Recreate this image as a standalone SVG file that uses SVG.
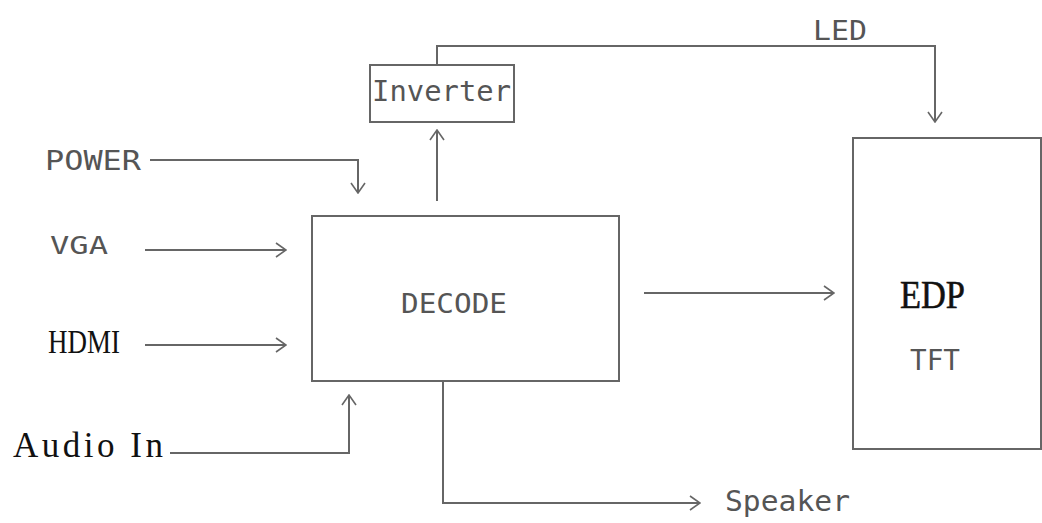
<svg xmlns="http://www.w3.org/2000/svg" width="1042" height="523" viewBox="0 0 1042 523">
<style>
.box{fill:#fff;stroke:#666;stroke-width:2}
.ln{fill:none;stroke:#666;stroke-width:2}
.sans{font-family:"DejaVu Sans Mono","Liberation Mono",monospace;fill:#555}
.ser{font-family:"Liberation Serif","DejaVu Serif",serif;fill:#111}
</style>
<defs>
<marker id="ah" viewBox="0 0 12 16" refX="11" refY="8" markerWidth="12" markerHeight="16" markerUnits="userSpaceOnUse" orient="auto">
<path d="M1,1 L11,8 L1,15" fill="none" stroke="#666" stroke-width="1.6"/>
</marker>
</defs>
<rect width="1042" height="523" fill="#fff"/>
<g id="connectors">
<path class="ln" d="M437,65 V46 H935 V122" marker-end="url(#ah)"/>
<path class="ln" d="M437,201 V130" marker-end="url(#ah)"/>
<path class="ln" d="M150,160 H358 V193" marker-end="url(#ah)"/>
<path class="ln" d="M145,250 H286" marker-end="url(#ah)"/>
<path class="ln" d="M145,345 H286" marker-end="url(#ah)"/>
<path class="ln" d="M170,453 H349 V395" marker-end="url(#ah)"/>
<path class="ln" d="M443,381 V503 H700" marker-end="url(#ah)"/>
<path class="ln" d="M644,293 H834" marker-end="url(#ah)"/>
</g>
<g id="inverter">
<rect class="box" x="370" y="65" width="144" height="57"/>
<text class="sans" x="372" y="101" font-size="28" textLength="139" lengthAdjust="spacingAndGlyphs">Inverter</text>
</g>
<g id="decode">
<rect class="box" x="312" y="216" width="307" height="165"/>
<text class="sans" x="401" y="313" font-size="26" textLength="106" lengthAdjust="spacingAndGlyphs">DECODE</text>
</g>
<g id="edp">
<rect class="box" x="853" y="138" width="188" height="311"/>
<text class="ser" x="900" y="308" font-size="40" textLength="65" lengthAdjust="spacingAndGlyphs" stroke="#111" stroke-width="0.6">EDP</text>
<text class="sans" x="910" y="370" font-size="28" textLength="50" lengthAdjust="spacingAndGlyphs">TFT</text>
</g>
<g id="labels">
<text class="sans" x="813" y="40" font-size="26" textLength="54" lengthAdjust="spacingAndGlyphs">LED</text>
<text class="sans" x="45" y="170" font-size="27" textLength="96" lengthAdjust="spacingAndGlyphs">POWER</text>
<text class="sans" x="50" y="254" font-size="25" textLength="58" lengthAdjust="spacingAndGlyphs">VGA</text>
<text class="ser" x="48" y="353" font-size="34" textLength="72" lengthAdjust="spacingAndGlyphs">HDMI</text>
<text class="ser" x="13" y="457" font-size="35" textLength="150" lengthAdjust="spacing">Audio In</text>
<text class="sans" x="725" y="511" font-size="28" textLength="125" lengthAdjust="spacingAndGlyphs">Speaker</text>
</g>
</svg>
